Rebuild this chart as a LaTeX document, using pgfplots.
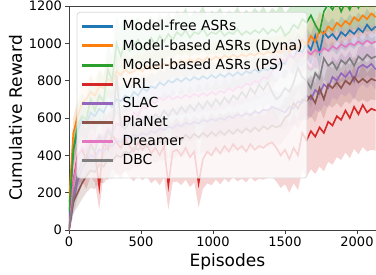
\documentclass[border=0pt]{standalone}
\usepackage{fontspec}
\setmainfont{DejaVu Sans}
\usepackage{pgfplots}
\pgfplotsset{compat=1.18}
\usepackage{pgfplotstable}
\usepgfplotslibrary{fillbetween}
\definecolor{cblue}{HTML}{1F77B4}
\definecolor{corange}{HTML}{FF7F0E}
\definecolor{cgreen}{HTML}{2CA02C}
\definecolor{cred}{HTML}{D62728}
\definecolor{cpurple}{HTML}{9467BD}
\definecolor{cbrown}{HTML}{8C564B}
\definecolor{cpink}{HTML}{E377C2}
\definecolor{cgray}{HTML}{7F7F7F}

\pgfplotstableread{
x m s
0 50 30
30 430 70
60 530 80
90 590 85
120 570 80
150 630 85
180 610 80
210 650 85
240 630 75
270 680 80
300 660 75
330 700 80
360 690 75
390 720 80
420 700 70
450 740 75
480 720 70
510 760 75
540 745 70
570 770 75
600 760 70
630 790 75
660 775 70
690 800 75
720 790 70
750 810 75
780 795 70
810 815 75
840 800 70
870 820 75
900 805 70
930 825 75
960 810 70
990 830 75
1020 815 70
1050 835 75
1080 820 70
1110 840 75
1140 825 70
1170 845 75
1200 830 70
1230 850 75
1260 840 70
1290 860 75
1320 845 70
1350 865 75
1380 855 70
1410 875 75
1440 870 75
1470 900 80
1500 890 80
1530 940 85
1560 920 80
1590 970 85
1620 950 80
1650 1000 85
1680 965 80
1710 1040 85
1740 950 80
1770 1060 85
1800 1030 80
1830 1050 85
1860 1020 80
1890 1060 85
1920 1040 80
1950 1070 85
1980 1050 80
2010 1080 85
2040 1060 80
2070 1100 85
2100 1070 80
2130 1090 85
}\tblfree

\pgfplotstableread{
x m s
0 150 50
30 520 80
60 610 90
90 680 95
120 700 90
150 740 95
180 720 85
210 770 90
240 760 85
270 810 95
300 790 85
330 850 90
360 830 85
390 860 90
420 840 80
450 850 85
480 870 80
510 850 85
540 880 80
570 860 85
600 880 80
630 870 85
660 890 80
690 880 85
720 900 80
750 885 85
780 910 80
810 895 85
840 915 80
870 900 85
900 920 80
930 905 85
960 925 80
990 910 85
1020 930 80
1050 915 85
1080 935 80
1110 920 85
1140 940 80
1170 925 85
1200 940 80
1230 930 85
1260 945 80
1290 935 85
1320 950 80
1350 940 85
1380 955 80
1410 945 85
1440 960 80
1470 950 85
1500 985 90
1530 955 85
1560 990 90
1590 970 85
1620 1020 95
1650 990 90
1680 1040 95
1710 1010 90
1740 1070 100
1770 1050 95
1800 1090 100
1830 1070 95
1860 1110 100
1890 1090 95
1920 1120 100
1950 1100 95
1980 1140 100
2010 1120 95
2040 1150 100
2070 1130 95
2100 1160 100
2130 1140 95
}\tbldyna

\pgfplotstableread{
x m s
0 100 40
30 430 90
60 560 110
90 610 120
120 590 115
150 700 130
180 640 120
210 720 135
240 690 125
270 860 140
300 800 130
330 1000 150
360 930 135
390 1010 140
420 960 125
450 990 130
480 1020 120
510 970 125
540 1000 115
570 1030 120
600 990 110
630 1040 120
660 1010 110
690 1050 115
720 1020 105
750 1060 115
780 1040 110
810 1070 120
840 1030 105
870 1060 115
900 1050 110
930 1080 120
960 1040 105
990 1060 115
1020 1050 110
1050 1070 120
1080 1040 105
1110 1060 115
1140 1050 110
1170 1075 120
1200 1045 105
1230 1065 115
1260 1050 110
1290 1070 120
1320 1055 110
1350 1080 120
1380 1050 105
1410 1075 115
1440 1060 110
1470 1090 125
1500 1040 120
1530 1060 130
1560 1100 125
1590 1080 135
1620 1130 130
1650 1110 140
1680 1150 135
1710 1100 145
1740 1060 140
1770 1170 150
1800 1210 145
1830 1180 150
1860 1230 155
1890 1170 145
1920 1220 150
1950 1180 140
1980 1240 155
2010 1190 145
2040 1230 150
2070 1200 140
2100 1220 150
2130 1210 145
}\tblps

\pgfplotstableread{
x m s
0 0 20
30 260 140
60 400 160
90 430 170
120 380 160
150 460 175
180 420 165
210 230 120
240 470 175
270 430 165
300 510 180
330 470 170
360 440 165
390 490 175
420 450 165
450 420 160
480 470 175
510 430 165
540 460 170
570 410 160
600 440 170
630 400 160
660 450 170
690 240 130
720 420 165
750 430 170
780 400 160
810 440 170
840 390 160
870 420 165
900 250 130
930 380 160
960 420 170
990 400 160
1020 440 170
1050 410 165
1080 450 175
1110 420 165
1140 460 175
1170 430 170
1200 450 175
1230 420 165
1260 460 175
1290 430 170
1320 450 175
1350 440 170
1380 460 180
1410 470 185
1440 440 180
1470 400 175
1500 430 185
1530 380 180
1560 440 190
1590 400 185
1620 520 200
1650 480 195
1680 530 205
1710 500 200
1740 550 210
1770 520 205
1800 580 215
1830 560 210
1860 610 220
1890 590 215
1920 640 225
1950 600 215
1980 660 225
2010 620 215
2040 670 225
2070 630 210
2100 650 220
2130 640 215
}\tblvrl

\pgfplotstableread{
x m s
0 0 20
30 150 70
60 260 85
90 330 90
120 370 95
150 400 90
180 390 85
210 430 95
240 420 90
270 460 95
300 450 90
330 480 95
360 470 90
390 500 95
420 490 90
450 510 95
480 500 90
510 520 95
540 510 90
570 530 95
600 520 90
630 545 95
660 535 90
690 555 95
720 545 90
750 565 95
780 555 90
810 575 95
840 565 90
870 580 95
900 570 90
930 590 95
960 580 90
990 595 95
1020 585 90
1050 600 95
1080 590 90
1110 610 95
1140 600 90
1170 620 95
1200 610 90
1230 625 95
1260 615 90
1290 635 95
1320 625 90
1350 645 95
1380 640 90
1410 660 95
1440 650 90
1470 640 95
1500 630 90
1530 660 100
1560 650 95
1590 690 100
1620 680 95
1650 720 105
1680 700 100
1710 750 105
1740 730 100
1770 780 110
1800 760 105
1830 820 110
1860 800 105
1890 840 110
1920 820 105
1950 850 110
1980 800 105
2010 870 110
2040 885 105
2070 870 110
2100 890 105
2130 860 110
}\tblslac

\pgfplotstableread{
x m s
0 0 20
30 150 60
60 200 75
90 250 85
120 290 90
150 320 95
180 310 90
210 350 95
240 340 90
270 380 100
300 370 95
330 400 100
360 390 95
390 420 100
420 410 95
450 440 100
480 430 95
510 455 100
540 445 95
570 465 100
600 455 95
630 475 100
660 465 95
690 490 100
720 470 95
750 500 100
780 480 95
810 510 100
840 490 95
870 515 100
900 495 95
930 520 100
960 500 95
990 525 100
1020 505 95
1050 530 100
1080 510 95
1110 535 100
1140 515 95
1170 540 100
1200 520 95
1230 545 100
1260 525 95
1290 550 100
1320 530 95
1350 555 100
1380 540 95
1410 560 100
1440 550 95
1470 560 100
1500 600 105
1530 620 100
1560 680 110
1590 650 105
1620 700 110
1650 690 105
1680 720 110
1710 680 105
1740 760 110
1770 700 105
1800 780 110
1830 760 105
1860 790 110
1890 760 105
1920 800 110
1950 780 105
1980 820 110
2010 790 105
2040 810 110
2070 790 105
2100 810 110
2130 800 105
}\tblplanet

\pgfplotstableread{
x m s
0 0 20
30 250 80
60 390 90
90 440 95
120 420 90
150 480 95
180 460 90
210 510 95
240 490 90
270 540 95
300 520 90
330 570 95
360 560 90
390 600 95
420 580 90
450 630 95
480 610 90
510 660 95
540 650 90
570 690 95
600 680 90
630 710 95
660 695 90
690 720 95
720 700 90
750 715 95
780 705 90
810 725 95
840 710 90
870 730 95
900 715 90
930 735 95
960 720 90
990 740 95
1020 725 90
1050 745 95
1080 735 90
1110 760 95
1140 745 90
1170 770 95
1200 760 90
1230 785 95
1260 775 90
1290 800 95
1320 790 90
1350 820 95
1380 810 90
1410 850 95
1440 880 90
1470 920 95
1500 900 90
1530 940 95
1560 920 90
1590 950 95
1620 930 90
1650 960 95
1680 940 90
1710 965 95
1740 950 90
1770 975 95
1800 960 90
1830 985 95
1860 970 90
1890 995 95
1920 980 90
1950 1000 95
1980 990 90
2010 1010 95
2040 995 90
2070 1015 95
2100 1000 90
2130 1010 95
}\tbldreamer

\pgfplotstableread{
x m s
0 0 20
30 180 70
60 300 90
90 370 100
120 400 100
150 450 105
180 420 100
210 500 105
240 460 100
270 530 110
300 500 105
330 830 150
360 560 105
390 540 100
420 580 105
450 550 100
480 600 105
510 570 100
540 610 105
570 590 100
600 620 105
630 600 100
660 640 105
690 610 100
720 650 105
750 620 100
780 660 105
810 630 100
840 670 105
870 640 100
900 680 105
930 650 100
960 690 105
990 660 100
1020 700 105
1050 670 100
1080 710 105
1110 680 100
1140 720 105
1170 700 100
1200 740 105
1230 710 100
1260 760 105
1290 730 100
1320 780 105
1350 750 100
1380 790 105
1410 740 100
1440 700 105
1470 720 100
1500 760 105
1530 740 100
1560 790 105
1590 870 110
1620 820 105
1650 800 100
1680 760 105
1710 840 110
1740 810 105
1770 920 110
1800 880 105
1830 900 110
1860 860 105
1890 910 110
1920 890 105
1950 920 110
1980 880 105
2010 930 110
2040 910 105
2070 940 110
2100 920 105
2130 930 110
}\tbldbc

\newcommand{\series}[3]{%
  \addplot[draw=none, forget plot, name path=#3up] table[x=x, y expr=\thisrow{m}+\thisrow{s}] {#1};
  \addplot[draw=none, forget plot, name path=#3lo] table[x=x, y expr=\thisrow{m}-\thisrow{s}] {#1};
  \addplot[fill=#2, fill opacity=0.2, draw=none, forget plot] fill between[of=#3up and #3lo];
  \addplot[#2, line width=1.6pt, forget plot] table[x=x, y=m] {#1};
}

\begin{document}
\begin{tikzpicture}
\begin{axis}[
  scale only axis,
  width=316.8pt, height=224pt,
  xmin=0, xmax=2200, ymin=0, ymax=1200,
  xtick={0,500,1000,1500,2000},
  ytick={0,200,400,600,800,1000,1200},
  tick align=outside,
  xtick pos=left, ytick pos=left,
  major tick length=3.5pt,
  tick style={black!75, line width=0.8pt},
  axis line style={black!75, line width=0.8pt},
  ticklabel style={font=\fontsize{13}{15}\selectfont},
  /pgf/number format/assume math mode=true,
  /pgf/number format/1000 sep={},
  label style={font=\fontsize{17}{20}\selectfont},
  xlabel={Episodes}, ylabel={Cumulative Reward},
  legend cell align=left,
  legend image code/.code={\fill[#1] (0pt,-1pt) rectangle (30pt,1pt);},
  legend style={at={(axis description cs:0.0347,0.955)}, anchor=north west,
    font=\fontsize{13.9}{16}\selectfont, draw=none, fill=none,
    inner xsep=2pt, inner ysep=2pt,
    row sep=3.2pt,
    /tikz/every odd column/.append style={column sep=8pt}},
]
\coordinate (O) at (rel axis cs:0,0);
\addlegendimage{cblue}\addlegendentry{Model-free ASRs}
\addlegendimage{corange}\addlegendentry{Model-based ASRs (Dyna)}
\addlegendimage{cgreen}\addlegendentry{Model-based ASRs (PS)}
\addlegendimage{cred}\addlegendentry{VRL}
\addlegendimage{cpurple}\addlegendentry{SLAC}
\addlegendimage{cbrown}\addlegendentry{PlaNet}
\addlegendimage{cpink}\addlegendentry{Dreamer}
\addlegendimage{cgray}\addlegendentry{DBC}
\series{\tblfree}{cblue}{a}
\series{\tbldyna}{corange}{b}
\series{\tblps}{cgreen}{c}
\series{\tblvrl}{cred}{d}
\series{\tblslac}{cpurple}{e}
\series{\tblplanet}{cbrown}{f}
\series{\tbldreamer}{cpink}{g}
\series{\tbldbc}{cgray}{h}
\fill[white, fill opacity=0.8, rounded corners=3pt] (axis description cs:0.0253,0.972) rectangle (axis description cs:0.7513,0.232);
\draw[black!15, line width=0.8pt, rounded corners=3pt] (axis description cs:0.0253,0.972) rectangle (axis description cs:0.7513,0.232);
\end{axis}
\pgfresetboundingbox
\path ([shift={(-69pt,-44pt)}]O) rectangle ([shift={(307pt,230pt)}]O);
\end{tikzpicture}
\end{document}
